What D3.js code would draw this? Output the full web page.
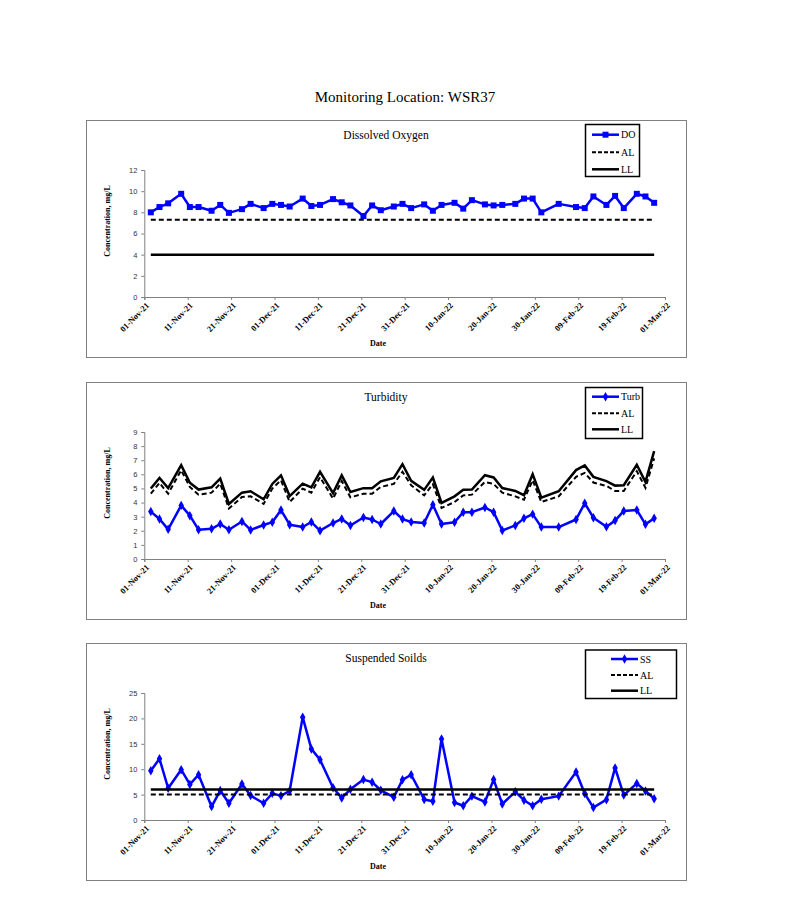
<!DOCTYPE html>
<html><head><meta charset="utf-8">
<script src="https://cdn.jsdelivr.net/npm/d3@7"></script>
<style>body{margin:0;background:#fff;} svg{display:block;}</style>
</head><body>
<script>
// ---------- DATA ----------
const sampleDates = [
 "2021-11-02","2021-11-04","2021-11-06","2021-11-09","2021-11-11","2021-11-13","2021-11-16","2021-11-18","2021-11-20","2021-11-23",
 "2021-11-25","2021-11-28","2021-11-30","2021-12-02","2021-12-04","2021-12-07","2021-12-09","2021-12-11","2021-12-14","2021-12-16",
 "2021-12-18","2021-12-21","2021-12-23","2021-12-25","2021-12-28","2021-12-30","2022-01-01","2022-01-04","2022-01-06","2022-01-08",
 "2022-01-11","2022-01-13","2022-01-15","2022-01-18","2022-01-20","2022-01-22","2022-01-25","2022-01-27","2022-01-29","2022-01-31",
 "2022-02-04","2022-02-08","2022-02-10","2022-02-12","2022-02-15","2022-02-17","2022-02-19","2022-02-22","2022-02-24","2022-02-26"];

const doValues = [8.0,8.5,8.85,9.75,8.5,8.5,8.15,8.7,7.95,8.3,8.8,8.4,8.8,8.7,8.55,9.3,8.6,8.7,9.25,8.95,8.65,7.65,8.65,8.2,8.55,8.8,
 8.4,8.75,8.15,8.7,8.9,8.35,9.15,8.75,8.65,8.7,8.8,9.3,9.3,8.0,8.8,8.5,8.4,9.5,8.7,9.55,8.4,9.75,9.5,8.9];
const doAL = 7.3;
const doLL = 4;

const turbValues = [3.36,2.83,2.1,3.8,3.07,2.08,2.14,2.48,2.07,2.66,2.06,2.41,2.61,3.47,2.43,2.27,2.62,2.01,2.55,2.84,2.37,2.94,2.8,2.48,3.4,2.83,
 2.62,2.55,3.85,2.48,2.6,3.32,3.32,3.65,3.32,2.02,2.38,2.88,3.18,2.26,2.26,2.8,3.95,2.93,2.28,2.72,3.41,3.48,2.46,2.88];
const turbAL = [4.63,5.39,4.63,6.29,5.11,4.56,4.7,5.34,3.58,4.39,4.44,3.9,4.99,5.58,4.04,4.99,4.7,5.8,4.28,5.53,4.37,4.63,4.63,5.11,5.32,6.18,
 5.23,4.51,5.3,3.62,4.04,4.51,4.56,5.46,5.32,4.7,4.44,4.2,5.58,4.04,4.44,5.82,6.1,5.42,5.18,4.82,4.82,6.22,5.04,7.13];
const turbLL = [5.0,5.75,5.03,6.65,5.4,4.92,5.08,5.7,3.9,4.7,4.8,4.23,5.32,5.93,4.46,5.34,5.08,6.18,4.67,5.93,4.75,5.02,5.02,5.5,5.75,6.72,
 5.54,4.9,5.77,3.97,4.44,4.9,4.92,5.94,5.78,5.03,4.82,4.52,6.01,4.34,4.8,6.3,6.63,5.82,5.52,5.2,5.23,6.68,5.46,7.65];

const ssValues = [9.7,12.05,6.25,9.9,7.0,8.9,2.65,5.8,3.3,7.1,4.8,3.3,5.25,4.75,5.75,20.25,14.0,11.85,6.35,4.35,6.05,7.95,7.45,5.85,4.5,7.9,
 8.9,4.05,3.7,15.95,3.45,2.8,4.7,3.55,7.95,3.15,5.55,3.9,2.8,4.1,4.7,9.45,5.2,2.45,4.0,10.25,4.9,7.2,5.7,4.2];
const ssAL = 5;
const ssLL = 6;

const xTickLabels = ["01-Nov-21","11-Nov-21","21-Nov-21","01-Dec-21","11-Dec-21","21-Dec-21","31-Dec-21",
 "10-Jan-22","20-Jan-22","30-Jan-22","09-Feb-22","19-Feb-22","01-Mar-22"];
const doTicks = [0,2,4,6,8,10,12];
const turbTicks = [0,1,2,3,4,5,6,7,8,9];
const ssTicks = [0,5,10,15,20,25];

// ---------- DRAW ----------
const SERIF = "'Liberation Serif','Times New Roman',serif";
const SANS = "'Liberation Sans',Arial,sans-serif";
const BLUE = "#0000ff";
const svg = d3.select("body").append("svg").attr("width",794).attr("height",920);
const parse = d3.timeParse("%Y-%m-%d");
const tickParse = d3.timeParse("%d-%b-%y");
const dates = sampleDates.map(parse);
const xTicks = xTickLabels.map(tickParse);
const x = d3.scaleTime().domain([xTicks[0], xTicks[xTicks.length-1]]).range([144.3, 665]);
// Excel date axis "between tick marks": a day's value sits in the middle of that day
const px = d => x(d3.timeHour.offset(d, 12));

svg.append("text").attr("x",405).attr("y",102).attr("text-anchor","middle")
  .style("font-family",SERIF).style("font-size","15px").text("Monitoring Location: WSR37");

function chart(cfg){
  const top = cfg.top;
  const g = svg.append("g");
  g.append("rect").attr("x",86.5).attr("y",top+0.5).attr("width",600).attr("height",237)
    .attr("fill","none").attr("stroke","#808080").attr("stroke-width",1);
  g.append("text").attr("x",386).attr("y",top+19).attr("text-anchor","middle")
    .style("font-family",SERIF).style("font-size","11.5px").text(cfg.title);

  const y = d3.scaleLinear().domain([0, cfg.ticks[cfg.ticks.length-1]]).range([top+177, top+50]);

  // axes
  const yAxis = g.append("g").attr("transform",`translate(${x.range()[0]},0)`)
    .call(d3.axisLeft(y).tickValues(cfg.ticks).tickSize(3).tickPadding(4).tickFormat(d3.format("d")));
  yAxis.select(".domain").attr("stroke","#808080");
  yAxis.selectAll(".tick line").attr("stroke","#808080");
  yAxis.selectAll("text").style("font-family",SANS).style("font-size","7.5px").attr("fill","#333");

  const xAxis = g.append("g").attr("transform",`translate(0,${y(0)})`)
    .call(d3.axisBottom(x).tickValues(xTicks).tickSize(3).tickFormat(d3.timeFormat("%d-%b-%y")));
  xAxis.select(".domain").attr("stroke","#808080");
  xAxis.selectAll(".tick line").attr("stroke","#808080");
  xAxis.selectAll("text").style("font-family",SERIF).style("font-size","8.5px").style("font-weight","bold")
    .attr("fill","#000").attr("text-anchor","end").attr("dy",null).attr("y",0)
    .attr("transform","translate(5,9) rotate(-45)");

  g.append("text").attr("x",378).attr("y",top+226).attr("text-anchor","middle")
    .style("font-family",SERIF).style("font-size","8px").style("font-weight","bold").text("Date");
  g.append("text").attr("transform",`translate(110,${top+101}) rotate(-90)`).attr("text-anchor","middle")
    .style("font-family",SERIF).style("font-size","8px").style("font-weight","bold").text("Concentration, mg/L");

  // series
  const line = d3.line().x(d=>px(d.date)).y(d=>y(d.v));
  const main = dates.map((d,i)=>({date:d, v:cfg.values[i]}));
  g.append("path").datum(main).attr("d",line).attr("fill","none").attr("stroke",BLUE)
    .attr("stroke-width",2.5).attr("stroke-linejoin","round");
  const sym = d3.symbol().type(cfg.square ? d3.symbolSquare : d3.symbolDiamond).size(cfg.square ? 36 : 26);
  g.selectAll(null).data(main).enter().append("path")
    .attr("transform",d=>`translate(${px(d.date)},${y(d.v)})`).attr("d",sym).attr("fill",BLUE);

  const toSeries = a => Array.isArray(a) ? dates.map((d,i)=>({date:d, v:a[i]}))
                                          : [{date:dates[0], v:a},{date:dates[dates.length-1], v:a}];
  g.append("path").datum(toSeries(cfg.al)).attr("d",line).attr("fill","none").attr("stroke","#000")
    .attr("stroke-width",2).attr("stroke-dasharray","5,3");
  g.append("path").datum(toSeries(cfg.ll)).attr("d",line).attr("fill","none").attr("stroke","#000")
    .attr("stroke-width",2.5);

  // legend
  const L = cfg.legend;
  g.append("rect").attr("x",L.x).attr("y",top+L.y).attr("width",L.w).attr("height",L.h)
    .attr("fill","#fff").attr("stroke","#000").attr("stroke-width",1.5);
  const items = [{name:cfg.name, kind:"main"},{name:"AL", kind:"al"},{name:"LL", kind:"ll"}];
  items.forEach((it,i)=>{
    const yy = top + L.rows[i];
    const ln = g.append("line").attr("x1",L.x1).attr("x2",L.x2).attr("y1",yy).attr("y2",yy);
    if(it.kind==="main"){
      ln.attr("stroke",BLUE).attr("stroke-width",2.5);
      g.append("path").attr("transform",`translate(${(L.x1+L.x2)/2},${yy})`).attr("d",sym).attr("fill",BLUE);
    } else if(it.kind==="al"){
      ln.attr("stroke","#000").attr("stroke-width",2).attr("stroke-dasharray","4,2");
    } else {
      ln.attr("stroke","#000").attr("stroke-width",2.5);
    }
    g.append("text").attr("x",L.x2+2).attr("y",yy+3.5)
      .style("font-family",SERIF).style("font-size","10px").text(it.name);
  });
}

chart({top:120, title:"Dissolved Oxygen", name:"DO", values:doValues, al:doAL, ll:doLL, ticks:doTicks, square:true,
  legend:{x:585.5, y:4.5, w:54, h:52, rows:[14.7,32.3,49.3], x1:592, x2:619}});
chart({top:382, title:"Turbidity", name:"Turb", values:turbValues, al:turbAL, ll:turbLL, ticks:turbTicks, square:false,
  legend:{x:585.5, y:5.5, w:57, h:51, rows:[14.7,31.3,47.3], x1:592, x2:619}});
chart({top:643, title:"Suspended Soilds", name:"SS", values:ssValues, al:ssAL, ll:ssLL, ticks:ssTicks, square:false,
  legend:{x:585.5, y:7, w:91, h:48.5, rows:[16,32,47.7], x1:611, x2:638}});
</script>
</body></html>
